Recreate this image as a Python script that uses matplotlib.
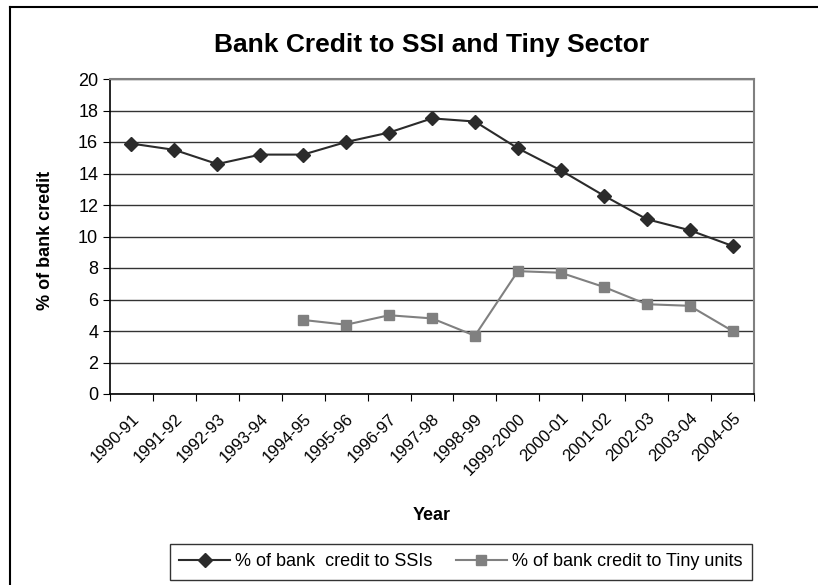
import numpy as np
import matplotlib.pyplot as plt
from matplotlib.lines import Line2D

plt.rcParams['font.family'] = ['Liberation Sans', 'DejaVu Sans']

years = ["1990-91", "1991-92", "1992-93", "1993-94", "1994-95", "1995-96",
         "1996-97", "1997-98", "1998-99", "1999-2000", "2000-01", "2001-02",
         "2002-03", "2003-04", "2004-05"]
ssi = [15.9, 15.5, 14.6, 15.2, 15.2, 16.0, 16.6, 17.5, 17.3, 15.6, 14.2,
       12.6, 11.1, 10.4, 9.4]
tiny = [np.nan, np.nan, np.nan, np.nan, 4.7, 4.4, 5.0, 4.8, 3.7, 7.8, 7.7,
        6.8, 5.7, 5.6, 4.0]

W, H = 818, 585
fig = plt.figure(figsize=(W / 100, H / 100), dpi=100)

# outer chart border (only left and top visible)
fig.add_artist(Line2D([10 / W, 10 / W], [0, 1 - 7 / H], color="black", lw=1.5))
fig.add_artist(Line2D([10 / W, 1], [1 - 7 / H, 1 - 7 / H], color="black", lw=1.5))

ax = fig.add_axes([110 / W, 1 - 394 / H, (754 - 110) / W, (394 - 79) / H])

x = np.arange(len(years))
ax.plot(x, ssi, color="#2b2b2b", marker="D", markersize=7, lw=1.5,
        label="% of bank  credit to SSIs")
ax.plot(x, tiny, color="#808080", marker="s", markersize=7, lw=1.5,
        label="% of bank credit to Tiny units")

ax.set_xlim(-0.5, len(years) - 0.5)
ax.set_ylim(0, 20)
ax.set_yticks(range(0, 21, 2))
ax.yaxis.grid(True, color="#333333", lw=1)
ax.set_axisbelow(True)

ax.set_xticks(np.arange(-0.5, len(years), 1.0))
ax.set_xticklabels([])
ax.set_xticks(x, minor=True)
ax.set_xticklabels(years, minor=True, rotation=45, ha="right",
                   rotation_mode="anchor", fontsize=12)
ax.tick_params(axis="x", which="minor", length=0, pad=12)
ax.tick_params(axis="x", which="major", length=5, direction="out", color="black")
ax.tick_params(axis="y", length=5, direction="out", labelsize=13)

ax.spines["top"].set_color("#808080")
ax.spines["right"].set_color("#808080")
ax.spines["top"].set_linewidth(1.5)
ax.spines["right"].set_linewidth(1.5)
ax.spines["left"].set_linewidth(1.2)
ax.spines["bottom"].set_linewidth(1.2)

fig.text(432 / W, 1 - 45 / H, "Bank Credit to SSI and Tiny Sector",
         ha="center", va="center", fontsize=19, fontweight="bold")
fig.text(45 / W, 1 - 240 / H, "% of bank credit", rotation=90,
         ha="center", va="center", fontsize=13, fontweight="bold")
fig.text(432 / W, 1 - 516 / H, "Year", ha="center", va="center",
         fontsize=13, fontweight="bold")

leg = fig.legend(loc="center", bbox_to_anchor=(461 / W, 1 - 562 / H),
                 ncol=2, frameon=True, fancybox=False, fontsize=13,
                 handlelength=2.8, columnspacing=1.3, borderpad=0.5,
                 handletextpad=0.3)
leg.get_frame().set_edgecolor("black")
leg.get_frame().set_linewidth(1)

fig.savefig("out.png", dpi=100)
